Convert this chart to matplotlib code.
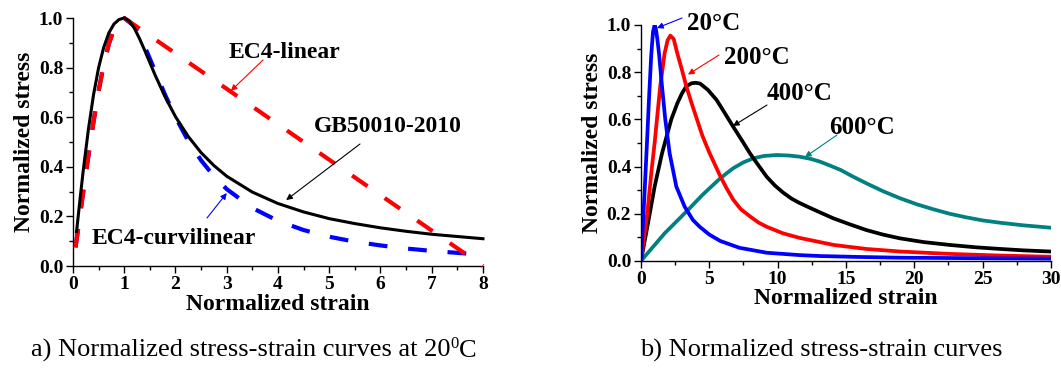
import matplotlib
matplotlib.use("Agg")
import matplotlib.pyplot as plt
from matplotlib.ticker import MultipleLocator, FormatStrFormatter

plt.rcParams['font.family'] = ['Liberation Serif', 'DejaVu Serif']

# ---------------- Left panel data (20 C) ----------------
gb_x = [0.07, 0.1, 0.15, 0.2, 0.3, 0.4, 0.5, 0.6, 0.7, 0.8, 0.9, 1.0,
        1.1, 1.2, 1.3, 1.4, 1.6, 1.8, 2.0, 2.25, 2.5, 2.75, 3.0, 3.5, 4.0,
        4.5, 5.0, 5.5, 6.0, 6.5, 7.0, 7.5, 8.0]
gb_y = [0.139, 0.198, 0.293, 0.385, 0.550, 0.690, 0.800, 0.882, 0.940, 0.976, 0.994, 1.0,
        0.988, 0.958, 0.916, 0.869, 0.771, 0.681, 0.602, 0.522, 0.457, 0.405, 0.362, 0.298, 0.252,
        0.218, 0.191, 0.171, 0.154, 0.140, 0.128, 0.119, 0.110]

ec4c_x = [0.05, 0.1, 0.2, 0.3, 0.4, 0.5, 0.6, 0.7, 0.8, 0.9, 1.0,
          1.2, 1.4, 1.6, 1.8, 2.0, 2.25, 2.5, 2.75, 3.0, 3.5, 4.0, 4.5,
          5.0, 5.5, 6.0, 6.5, 7.0, 7.5, 7.7]
ec4c_y = [0.075, 0.150, 0.299, 0.444, 0.581, 0.706, 0.812, 0.896, 0.955, 0.989, 1.0,
          0.966, 0.885, 0.787, 0.689, 0.600, 0.504, 0.426, 0.362, 0.310, 0.234, 0.182, 0.145,
          0.118, 0.098, 0.083, 0.0705, 0.061, 0.053, 0.050]

ec4l_x = [0.05, 0.1, 0.2, 0.3, 0.4, 0.5, 0.6, 0.7, 0.8, 0.9, 1.0, 8.0]
ec4l_y = [0.075, 0.150, 0.299, 0.444, 0.581, 0.706, 0.812, 0.896, 0.955, 0.989, 1.0, 0.0]

# ---------------- Right panel data ----------------
t20_x = [0, 0.15, 0.29, 0.44, 0.6, 0.75, 0.88, 1.0, 1.1, 1.2, 1.32, 1.54, 1.78, 2.1,
         2.59, 3.2, 3.8, 4.3, 5.0, 5.8, 7.2, 9.2, 11.6, 13.1, 16, 19, 24, 30]
t20_y = [0, 0.16, 0.32, 0.5, 0.7, 0.87, 0.97, 1.0, 0.98, 0.94, 0.88, 0.74, 0.6, 0.456,
         0.315, 0.23, 0.174, 0.145, 0.112, 0.085, 0.056, 0.035, 0.025, 0.021, 0.017, 0.014, 0.012, 0.01]

t200_x = [0, 0.46, 0.77, 1.0, 1.17, 1.41, 1.73, 1.95, 2.15, 2.4, 2.66, 3.0, 3.32, 3.7,
          4.1, 4.5, 5.0, 5.4, 5.8, 6.25, 6.75, 7.3, 8.0, 8.6, 9.2, 10.4, 11.6, 13.1,
          14.1, 16.5, 19, 22.6, 26.3, 30]
t200_y = [0, 0.2, 0.38, 0.5, 0.6, 0.74, 0.88, 0.935, 0.955, 0.94, 0.88, 0.81, 0.74, 0.67,
          0.6, 0.53, 0.46, 0.41, 0.36, 0.31, 0.26, 0.22, 0.188, 0.163, 0.145, 0.117, 0.098, 0.08,
          0.068, 0.051, 0.04, 0.03, 0.023, 0.018]

t400_x = [0, 0.56, 1.0, 1.54, 2.22, 2.66, 3.0, 3.32, 3.7, 4.0, 4.32, 4.9, 5.54, 6.1, 6.75,
          7.4, 7.98, 8.6, 9.2, 9.8, 10.4, 11.0, 11.6, 12.3, 13.1, 14.07, 15.3, 16.5, 17.7,
          18.95, 20.7, 22.6, 24.5, 26.3, 28, 30]
t400_y = [0, 0.174, 0.315, 0.456, 0.6, 0.668, 0.71, 0.74, 0.753, 0.755, 0.752, 0.725, 0.682, 0.63, 0.569,
          0.51, 0.456, 0.405, 0.357, 0.32, 0.29, 0.265, 0.246, 0.227, 0.206, 0.181, 0.155, 0.131, 0.112,
          0.096, 0.08, 0.068, 0.058, 0.051, 0.045, 0.04]

t600_x = [0, 1.73, 3.44, 4.5, 5.7, 6.3, 6.75, 7.5, 8.22, 9.0, 9.93, 10.8, 11.6, 12.4, 13.1,
          13.8, 14.6, 15.5, 16.5, 17.7, 18.95, 20.2, 21.4, 22.6, 23.8, 25, 26.3, 28, 30]
t600_y = [0, 0.117, 0.216, 0.28, 0.345, 0.373, 0.393, 0.418, 0.435, 0.445, 0.449, 0.447, 0.442, 0.433, 0.421,
          0.405, 0.386, 0.358, 0.329, 0.296, 0.266, 0.24, 0.219, 0.2, 0.185, 0.172, 0.162, 0.151, 0.141]

TEAL = '#008080'

fig = plt.figure(figsize=(10.61, 3.69), dpi=100)
axL = fig.add_axes([0.0688, 0.2791, 0.3864, 0.6721])
axR = fig.add_axes([0.6041, 0.2927, 0.3864, 0.6396])

def style(ax, xmaj, xmin, xmax):
    ax.set_xlim(0, xmax)
    ax.set_ylim(0, 1.0)
    for s in ['top', 'right']:
        ax.spines[s].set_visible(False)
    for s in ['left', 'bottom']:
        ax.spines[s].set_linewidth(1.0)
    ax.xaxis.set_major_locator(MultipleLocator(xmaj))
    ax.xaxis.set_minor_locator(MultipleLocator(xmin))
    ax.yaxis.set_major_locator(MultipleLocator(0.2))
    ax.yaxis.set_minor_locator(MultipleLocator(0.1))
    ax.yaxis.set_major_formatter(FormatStrFormatter('%.1f'))
    ax.tick_params(which='major', direction='out', length=5, width=1.0,
                   labelsize=14, pad=2)
    ax.tick_params(which='minor', direction='out', length=3, width=1.0)
    for lab in ax.get_xticklabels() + ax.get_yticklabels():
        lab.set_fontweight('bold')
    ax.set_ylabel('Normalized stress', fontsize=17, fontweight='bold', labelpad=3)

def ftext(x, y, s, size=17):
    fig.text(x / 1061, 1 - y / 369, s, fontsize=size, fontweight='bold',
             ha='center', va='center')

def arrow(ax, tip, tail_px, color):
    ax.annotate('', xy=tip, xycoords='data',
                xytext=(tail_px[0], 369 - tail_px[1]), textcoords='figure pixels',
                arrowprops=dict(arrowstyle='-|>', color=color, lw=0.8,
                                mutation_scale=9, shrinkA=0, shrinkB=0))

# Left panel
style(axL, 1, 0.5, 8)
axL.plot(ec4c_x, ec4c_y, color='blue', lw=3, dashes=(4.5, 5), zorder=2, clip_on=False)
axL.plot(ec4l_x, ec4l_y, color='red', lw=3, dashes=(4.5, 5), zorder=3, clip_on=False)
axL.plot(gb_x, gb_y, color='black', lw=2.2, zorder=4, clip_on=False)
axL.set_xlabel('Normalized strain', fontsize=17, fontweight='bold', labelpad=1)

ftext(284, 52, 'EC4-linear')
arrow(axL, (3.08, 0.706), (263, 60), 'red')
ftext(388, 127, 'GB50010-2010')
arrow(axL, (4.16, 0.266), (360, 144), 'black')
ftext(174, 239, 'EC4-curvilinear')
arrow(axL, (3.0, 0.294), (207, 218), 'blue')

# Right panel
style(axR, 5, 2.5, 30)
axR.plot(t600_x, t600_y, color=TEAL, lw=2.7)
axR.plot(t400_x, t400_y, color='black', lw=2.7)
axR.plot(t200_x, t200_y, color='red', lw=2.7)
axR.plot(t20_x, t20_y, color='blue', lw=2.7)
axR.set_xlabel('Normalized strain', fontsize=17, fontweight='bold', labelpad=0)

ftext(714, 23, '20°C', 18)
arrow(axR, (1.17, 0.987), (682, 18), 'blue')
ftext(757, 58, '200°C', 18)
arrow(axR, (3.44, 0.79), (719, 55), 'red')
ftext(800, 94, '400°C', 18)
arrow(axR, (6.73, 0.572), (767, 105), 'black')
ftext(862, 127, '600°C', 18)
arrow(axR, (12.0, 0.44), (837, 135), TEAL)

# Captions
cap_y = 1 - 357 / 369
t1 = fig.text(31 / 1061, cap_y, 'a) Normalized stress-strain curves at 20',
              fontsize=19, ha='left', va='baseline')
fig.canvas.draw()
r = fig.canvas.get_renderer()
bb = t1.get_window_extent(r)
x_sup = bb.x1 / 1061
t2 = fig.text(x_sup, cap_y + 9 / 369, '0', fontsize=12, ha='left', va='baseline')
bb2 = t2.get_window_extent(r)
fig.text(bb2.x1 / 1061, cap_y, 'C', fontsize=19, ha='left', va='baseline')
fig.text(821 / 1061, cap_y, 'b) Normalized stress-strain curves',
         fontsize=19, ha='center', va='baseline')

fig.savefig('out.png', dpi=100)
